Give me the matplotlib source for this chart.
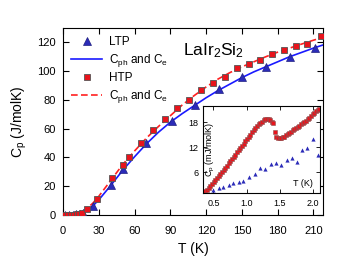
import matplotlib
matplotlib.use('Agg')
import matplotlib.pyplot as plt

plt.rcParams['font.family'] = ['Liberation Sans', 'DejaVu Sans']
plt.rcParams['mathtext.fontset'] = 'custom'
plt.rcParams['mathtext.rm'] = 'Liberation Sans'
plt.rcParams['mathtext.it'] = 'Liberation Sans:italic'

# main panel: measured points
ltp_T = [2, 5, 8, 11, 14, 17, 25, 40, 50.7, 69.7, 91.3, 110.4, 130.5, 150.2, 170.6, 190.8, 211]
ltp_cp = [0.0, 0.1, 0.2, 0.4, 0.9, 1.6, 6.5, 20.8, 32.1, 49.8, 65.1, 76.3, 87.7, 96.0, 103.0, 110.0, 115.8]

htp_T = [1.5, 4, 7, 9.5, 11.5, 13.5, 15.7, 20.4, 28.3, 41.4, 50.1, 55.7, 65.5, 75.7, 85.7,
         95.5, 105.9, 116, 125.5, 136, 146, 155.7, 165.5, 175.4, 185, 195.8, 204.8, 216]
htp_cp = [0.0, 0.05, 0.1, 0.3, 0.5, 0.9, 1.4, 4.2, 11.2, 25.4, 35.1, 40.5, 50.2, 58.8, 67.0,
          74.5, 80.3, 86.7, 91.9, 96.0, 101.9, 105.2, 107.7, 112.0, 114.7, 117.5, 119.1, 124.4]

fit_T = [0, 5, 10, 15, 20, 25, 30, 40, 50, 60, 70, 80, 90, 100, 110, 120, 130,
         140, 150, 160, 170, 180, 190, 200, 210, 218]
fit_ltp = [0, 0.05, 0.4, 1.5, 3.3, 6.3, 10.5, 20.5, 31, 40.5, 49.5, 57.5, 64.5, 70.5, 76,
           81.5, 86.5, 91, 95.5, 99.5, 103, 106.5, 110, 113, 116, 118.2]
fit_htp = [0, 0.05, 0.5, 1.8, 4.5, 8.2, 13, 24, 35, 44.5, 53.5, 61.5, 69, 76.5, 83,
           89, 94.5, 99, 103, 106.5, 110, 113.2, 116, 118.8, 121.5, 123.5]

# inset: low temperature (mJ/molK)
in_htp_T = [0.380, 0.405, 0.430, 0.455, 0.480, 0.505, 0.530, 0.555, 0.580, 0.605, 0.630,
            0.655, 0.680, 0.705, 0.730, 0.755, 0.780, 0.805, 0.830, 0.855, 0.880, 0.905,
            0.930, 0.955, 0.980, 1.005, 1.030, 1.055, 1.080, 1.105, 1.130, 1.155, 1.180,
            1.205, 1.230, 1.255, 1.280, 1.305, 1.330, 1.355, 1.380, 1.400,
            1.425, 1.445, 1.470, 1.495, 1.520, 1.545, 1.570, 1.595, 1.620, 1.645, 1.670,
            1.695, 1.720, 1.745, 1.770, 1.795, 1.820, 1.845, 1.870, 1.895, 1.920, 1.945,
            1.970, 1.995, 2.020, 2.045, 2.070, 2.090]
in_htp_cp = [1.5, 1.9, 2.3, 2.8, 3.2, 3.7, 4.1, 4.6, 5.1, 5.6, 6.1,
             6.6, 7.1, 7.6, 8.2, 8.7, 9.2, 9.7, 10.3, 10.8, 11.3, 11.9,
             12.4, 12.9, 13.5, 14.0, 14.6, 15.1, 15.6, 16.1, 16.6, 17.1, 17.5,
             17.9, 18.2, 18.5, 18.7, 18.8, 18.7, 18.5, 18.2, 17.8,
             15.6, 14.6, 14.3, 14.2, 14.2, 14.4, 14.6, 14.9, 15.2, 15.5, 15.8,
             16.1, 16.4, 16.7, 16.9, 17.2, 17.5, 17.8, 18.1, 18.4, 18.7, 19.1,
             19.5, 19.9, 20.3, 20.7, 21.0, 21.3]
in_ltp_T = [0.50, 0.58, 0.65, 0.73, 0.80, 0.88, 0.95, 1.03, 1.12, 1.195, 1.28, 1.36,
            1.435, 1.52, 1.605, 1.68, 1.76, 1.83, 1.91, 1.995, 2.07]
in_ltp_cp = [1.8, 2.2, 2.6, 3.0, 3.4, 3.8, 4.0, 4.8, 5.6, 7.0, 6.8, 8.0,
             8.2, 7.8, 9.0, 9.4, 8.5, 11.4, 11.8, 14.0, 10.2]

blue_pt = '#2b2bb8'
red_pt = '#e8141c'

fig = plt.figure(figsize=(3.38, 2.66), dpi=100)
ax = fig.add_axes([0.1864, 0.1917, 0.769, 0.703])

ax.plot(ltp_T, ltp_cp, '^', color=blue_pt, markersize=5.5, markeredgewidth=0.5,
        markeredgecolor='#202080', label='LTP', zorder=3)
ax.plot(fit_T, fit_ltp, '-', color='#1a1aff', linewidth=1.2,
        label=r'C$_{\rm ph}$ and C$_{\rm e}$', zorder=2)
ax.plot(htp_T, htp_cp, 's', color=red_pt, markersize=5, markeredgewidth=0.6,
        markeredgecolor='#555555', label='HTP', zorder=4)
ax.plot(fit_T, fit_htp, '--', color='#ff2020', linewidth=1.2, dashes=(4, 2),
        label=r'C$_{\rm ph}$ and C$_{\rm e}$', zorder=2)

ax.set_xlim(0, 218)
ax.set_ylim(0, 130)
ax.set_xticks([0, 30, 60, 90, 120, 150, 180, 210])
ax.set_yticks([0, 20, 40, 60, 80, 100, 120])
ax.tick_params(direction='in', top=True, right=True, length=4, width=0.8, labelsize=8)
ax.tick_params(axis='x', pad=8)
ax.tick_params(axis='y', pad=5)
ax.set_xlabel('T (K)', fontsize=10, labelpad=4)
ax.set_ylabel(r'C$_{\rm p}$ (J/molK)', fontsize=10, labelpad=6)
ax.text(0.46, 0.88, r'LaIr$_2$Si$_2$', transform=ax.transAxes, fontsize=12.5, va='center')
ax.legend(loc='upper left', frameon=False, fontsize=8.5, handlelength=2.6,
          labelspacing=0.3, borderaxespad=0.3, handletextpad=0.6)

# inset
axi = fig.add_axes([0.602, 0.2763, 0.3438, 0.3263])
axi.plot(in_htp_T, in_htp_cp, 's', color=red_pt, markersize=2.3, markeredgewidth=0.4,
         markeredgecolor='#8a5555')
axi.plot(in_ltp_T, in_ltp_cp, '^', color=blue_pt, markersize=3, markeredgewidth=0)
axi.set_xlim(0.35, 2.1)
axi.set_ylim(1.2, 22)
axi.set_xticks([0.5, 1.0, 1.5, 2.0])
axi.set_yticks([6, 12, 18])
axi.tick_params(direction='in', top=True, right=True, length=3, width=0.6, labelsize=6.5)
axi.tick_params(axis='x', pad=5)
axi.text(0.06, 0.5, r'C$_{\rm p}$ (mJ/molK)', transform=axi.transAxes, rotation=90,
         fontsize=6.5, va='center', ha='center')
axi.text(0.86, 0.1, 'T (K)', transform=axi.transAxes, fontsize=6.5, va='center', ha='center')

plt.savefig('out.png', dpi=100)
